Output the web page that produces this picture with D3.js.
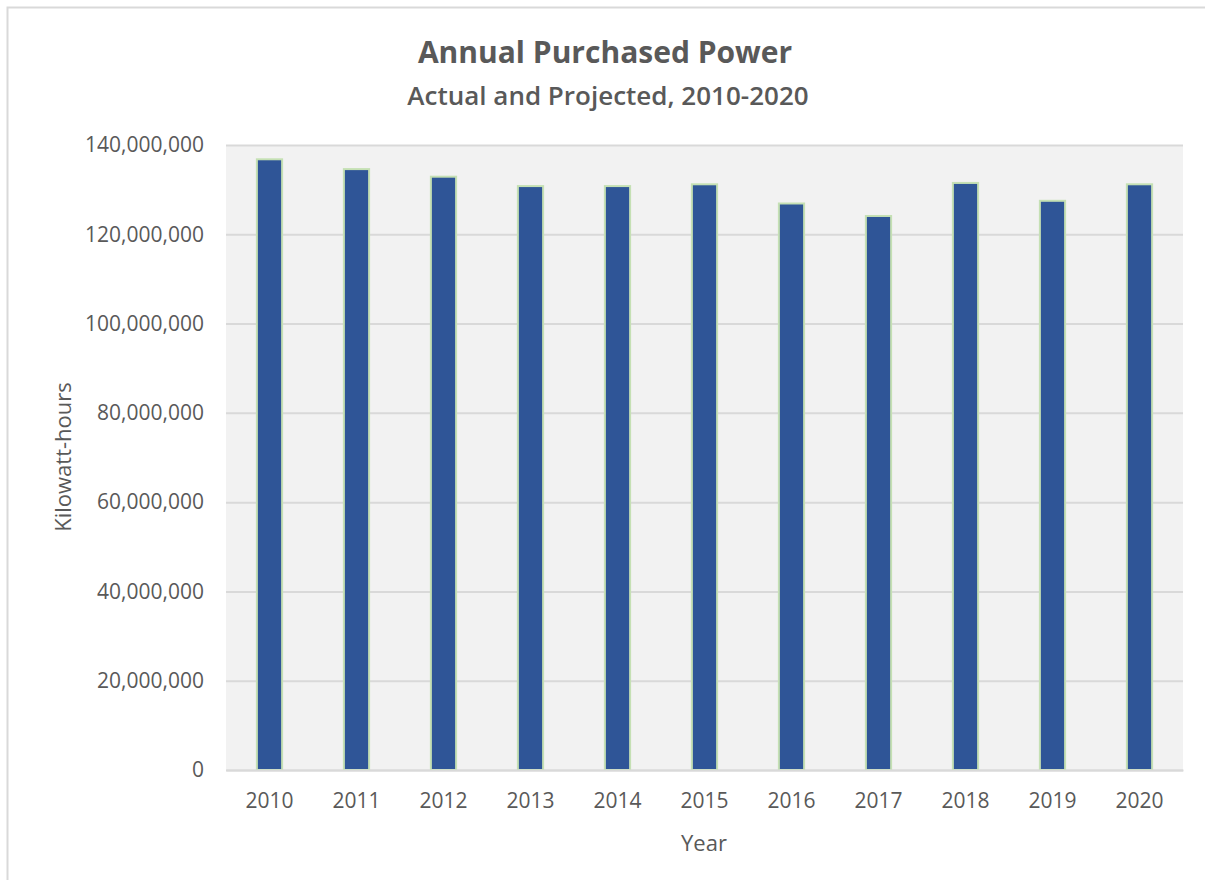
<!DOCTYPE html>
<html>
<head>
<meta charset="utf-8">
<script src="https://cdn.jsdelivr.net/npm/d3@7"></script>
<style>
  body { margin: 0; background: #fff; }
  text { font-family: "Open Sans", sans-serif; fill: #595959; }
</style>
</head>
<body>
<div id="container"></div>
<script>
const years = ["2010", "2011", "2012", "2013", "2014", "2015", "2016", "2017", "2018", "2019", "2020"];
const kwh = [136800000, 134600000, 132900000, 130800000, 130800000, 131200000, 126900000, 124100000, 131500000, 127500000, 131200000];
const yTicks = [0, 20000000, 40000000, 60000000, 80000000, 100000000, 120000000, 140000000];

const W = 1205, H = 880;
const plot = { left: 226, right: 1183, top: 145, bottom: 770 };

const svg = d3.select('#container')
    .append('svg')
        .attr('width', W)
        .attr('height', H);

// outer frame, runs off right and bottom edges
svg.append('rect')
    .attr('x', 7.5).attr('y', 7.5)
    .attr('width', W + 10).attr('height', H + 10)
    .attr('fill', 'none')
    .attr('stroke', '#d9d9d9')
    .attr('stroke-width', 2);

var x = d3.scaleBand()
    .domain(years)
    .range([plot.left, plot.right])
    .paddingInner(0.71)
    .paddingOuter(0.355);

var y = d3.scaleLinear()
    .domain([0, 140000000])
    .range([plot.bottom, plot.top]);

svg.append('rect')
    .attr('x', plot.left).attr('y', plot.top)
    .attr('width', plot.right - plot.left)
    .attr('height', plot.bottom - plot.top)
    .attr('fill', '#f2f2f2');

// gridlines + y labels
const yAxis = svg.append('g')
    .attr('transform', `translate(${plot.left},0)`)
    .call(d3.axisLeft(y).tickValues(yTicks).tickFormat(d3.format(',')).tickSize(-(plot.right - plot.left)).tickPadding(22));
yAxis.select('.domain').remove();
yAxis.selectAll('line').attr('stroke', '#d9d9d9').attr('stroke-width', 2);
yAxis.selectAll('text')
    .attr('font-size', 21)
    .attr('font-family', '"Open Sans", sans-serif')
    .attr('fill', '#595959');

svg.selectAll('.bar')
    .data(years)
    .enter()
    .append('rect')
        .attr('class', 'bar')
        .attr('x', d => x(d))
        .attr('width', x.bandwidth())
        .attr('y', (d, i) => y(kwh[i]))
        .attr('height', (d, i) => y(0) - y(kwh[i]))
        .attr('fill', '#2f5597')
        .attr('stroke', '#c5e0b4')
        .attr('stroke-width', 2);

const xAxis = svg.append('g')
    .attr('transform', `translate(0,${plot.bottom})`)
    .call(d3.axisBottom(x).tickSize(0).tickPadding(23));
xAxis.select('.domain').attr('stroke', '#d9d9d9').attr('stroke-width', 2);
xAxis.selectAll('text')
    .attr('font-size', 21)
    .attr('font-family', '"Open Sans", sans-serif')
    .attr('fill', '#595959');

svg.append('text')
    .attr('x', 605).attr('y', 63)
    .attr('text-anchor', 'middle')
    .attr('font-size', 30)
    .attr('font-weight', 'bold')
    .style('fill', '#595959')
    .text('Annual Purchased Power');

svg.append('text')
    .attr('x', 608).attr('y', 105)
    .attr('text-anchor', 'middle')
    .attr('font-size', 26)
    .attr('font-weight', 600)
    .style('fill', '#595959')
    .text('Actual and Projected, 2010-2020');

svg.append('text')
    .attr('transform', 'translate(62,457) rotate(-90)')
    .attr('text-anchor', 'middle')
    .attr('dominant-baseline', 'central')
    .attr('font-size', 22)
    .text('Kilowatt-hours');

svg.append('text')
    .attr('x', 704).attr('y', 842)
    .attr('text-anchor', 'middle')
    .attr('dominant-baseline', 'central')
    .attr('font-size', 22)
    .text('Year');
</script>
</body>
</html>
